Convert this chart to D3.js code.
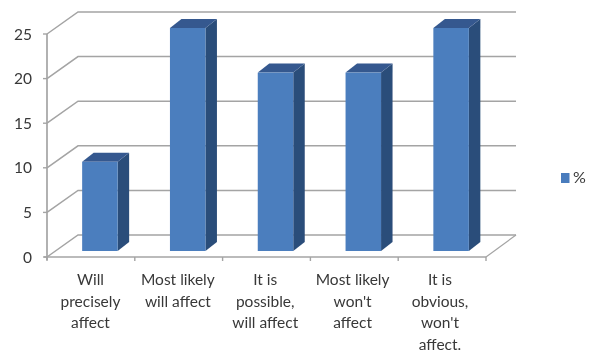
<!DOCTYPE html>
<html><head><meta charset="utf-8">
<script src="https://cdn.jsdelivr.net/npm/d3@7/dist/d3.min.js"></script>
<style>html,body{margin:0;padding:0;background:#fff}svg{display:block}text{font-family:Lato,"Open Sans",sans-serif;fill:#383838}</style>
</head><body><svg id="c" width="592" height="354"></svg>
<script>
const categories=[["Will","precisely","affect"],["Most likely","will affect"],["It is","possible,","will affect"],["Most likely","won't","affect"],["It is","obvious,","won't","affect."]];
const values=[10,25,20,20,25];
const yTicks=[0,5,10,15,20,25];
const seriesName="%";
const svg=d3.select("#c");
const defs=svg.append("defs");
defs.append("filter").attr("id","soft").attr("x","-5%").attr("y","-5%").attr("width","110%").attr("height","110%")
  .append("feGaussianBlur").attr("stdDeviation",0.55);
const g=svg.append("g").attr("filter","url(#soft)");
const y=d3.scaleLinear().domain([0,25]).range([257,34]);
const x=d3.scaleBand().domain(d3.range(categories.length)).range([47,486]);
const labelX=d3.scalePoint().domain(d3.range(categories.length)).range([90.5,440]);
const depthX=31,depthY=22,grid="#a4a4a4";
yTicks.forEach(t=>{
  g.append("path").attr("fill","none").attr("stroke",grid).attr("stroke-width",1.5)
   .attr("d",d3.line()([[x.range()[0],y(t)],[x.range()[0]+depthX,y(t)-depthY],[x.range()[1]+depthX-1,y(t)-depthY]]));
  g.append("line").attr("x1",43).attr("x2",47).attr("y1",y(t)).attr("y2",y(t)).attr("stroke",grid).attr("stroke-width",1.4);
  g.append("text").attr("x",32).attr("y",y(t)).attr("dy","0.36em").attr("text-anchor","end").attr("font-size",15.5).text(t);
});
g.append("line").attr("x1",x.range()[1]).attr("y1",y(0)).attr("x2",x.range()[1]+depthX-1).attr("y2",y(0)-depthY).attr("stroke",grid).attr("stroke-width",1.2);
g.append("line").attr("x1",47).attr("x2",47).attr("y1",y(25)).attr("y2",y(0)+3).attr("stroke",grid).attr("stroke-width",1.7);
g.append("line").attr("x1",44).attr("x2",x.range()[1]).attr("y1",y(0)).attr("y2",y(0)).attr("stroke",grid).attr("stroke-width",1.7);
d3.range(categories.length+1).forEach(i=>{
  const px=x.range()[0]+i*x.step();
  g.append("line").attr("x1",px).attr("x2",px).attr("y1",y(0)).attr("y2",y(0)+4).attr("stroke",grid).attr("stroke-width",1.4);
});
const barW=35.5,bdx=11.5,bdy=9,offX=9,offY=-6;
const bars=g.selectAll("g.bar").data(values).join("g").attr("class","bar");
bars.each(function(v,i){
  const s=d3.select(this),l=x(i)+x.bandwidth()/2+offX-barW/2,r=l+barW,b=y(0)+offY,t=y(v)+offY;
  s.append("path").attr("fill","#2c4d7a").attr("d",d3.line()([[r,t],[r+bdx,t-bdy],[r+bdx,b-bdy],[r,b]])+"Z");
  s.append("path").attr("fill","#35598f").attr("d",d3.line()([[l,t],[l+bdx,t-bdy],[r+bdx,t-bdy],[r,t]])+"Z");
  s.append("rect").attr("x",l).attr("y",t).attr("width",barW).attr("height",b-t).attr("fill","#4c7ebe");
});
categories.forEach((lines,i)=>{
  const t=g.append("text").attr("text-anchor","middle").attr("font-size",15.5);
  lines.forEach((ln,k)=>t.append("tspan").attr("x",labelX(i)).attr("y",285+k*21.7).text(ln));
});
g.append("rect").attr("x",561).attr("y",173).attr("width",8.5).attr("height",10).attr("fill","#4a7cbd");
g.append("text").attr("x",573).attr("y",183).attr("font-size",16).text(seriesName);
</script></body></html>
